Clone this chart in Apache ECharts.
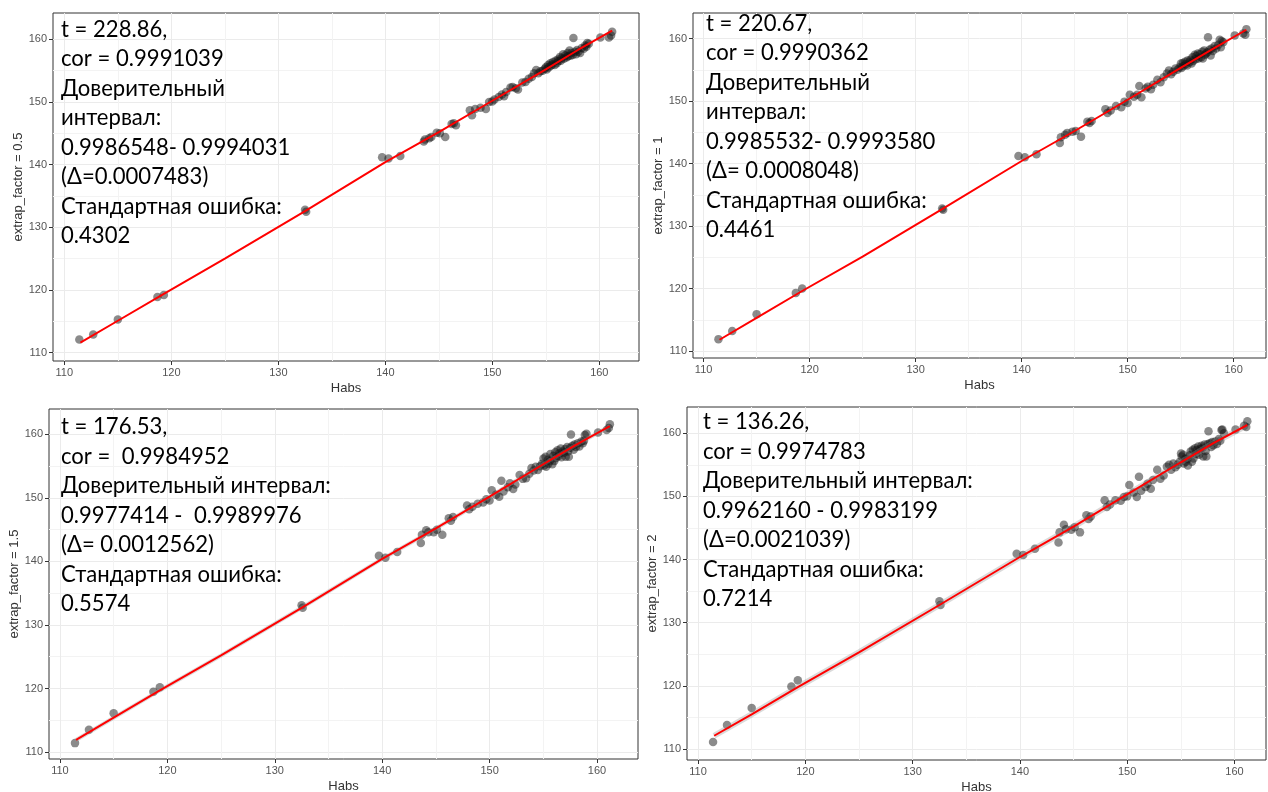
<!DOCTYPE html>
<html>
<head>
<meta charset="utf-8">
<script src="https://cdn.jsdelivr.net/npm/echarts@6/dist/echarts.min.js"></script>
<style>
  html, body { margin: 0; padding: 0; background: #fff; }
  #chart { width: 1268px; height: 792px; }
</style>
</head>
<body>
<div id="chart"></div>
<script>
// Habs (x), shared by all four panels
const habs = [
  111.4, 112.7, 115.0, 118.7, 119.3, 132.5, 132.6, 139.7, 140.3, 141.4,
  143.6, 143.7, 144.1, 144.3, 144.8, 145.1, 145.6, 146.2, 146.4, 146.6,
  147.9, 148.1, 148.4, 148.9, 149.4, 149.7, 150.0, 150.2, 150.6, 150.9,
  151.1, 151.3, 151.7, 151.9, 152.2, 152.4, 152.8, 153.1, 153.4, 153.7,
  153.9, 154.1, 154.3, 154.5, 154.7, 154.9, 155.02, 155.08, 155.21, 155.27,
  155.43, 155.48, 155.62, 155.66, 155.84, 155.91, 156.03, 156.12, 156.18, 156.33,
  156.41, 156.47, 156.62, 156.69, 156.81, 156.93, 157.04, 157.09, 157.22, 157.31,
  157.38, 157.52, 157.58, 157.71, 157.83, 157.92, 158.04, 158.21, 158.36, 158.55,
  158.68, 158.79, 158.87, 159.02, 160.1, 160.9, 161.1, 161.2
]

const extrap05 = [
  112.1, 112.9, 115.3, 118.9, 119.2, 132.8, 132.5, 141.2, 141.0, 141.4,
  143.7, 144.0, 144.2, 144.4, 145.1, 145.0, 144.4, 146.5, 146.6, 146.3,
  148.7, 147.9, 148.9, 149.1, 148.9, 150.0, 150.1, 150.4, 150.8, 151.2,
  150.9, 151.6, 152.3, 152.4, 152.2, 152.0, 153.1, 153.2, 153.7, 154.0,
  154.6, 155.1, 154.6, 154.9, 155.0, 155.3, 155.6, 155.2, 155.9, 155.5,
  156.2, 155.8, 156.0, 156.4, 155.9, 156.6, 156.2, 156.8, 156.5, 157.2,
  156.6, 157.0, 157.6, 156.9, 157.4, 157.1, 157.8, 157.3, 158.2, 157.4,
  157.8, 157.5, 160.2, 158.0, 157.6, 158.3, 158.0, 157.8, 158.6, 158.5,
  159.0, 158.8, 159.4, 159.3, 160.3, 160.3, 160.6, 161.2
]

const extrap1 = [
  111.9, 113.2, 115.9, 119.3, 120.0, 132.8, 132.6, 141.2, 141.0, 141.5,
  143.3, 144.2, 144.6, 144.9, 145.1, 145.2, 144.3, 146.7, 146.5, 146.8,
  148.7, 148.1, 148.5, 149.2, 149.0, 149.9, 149.7, 151.0, 150.7, 151.0,
  152.4, 150.6, 152.0, 152.3, 151.9, 152.6, 153.4, 153.0, 153.8, 154.4,
  154.9, 154.3, 154.7, 155.2, 155.0, 155.4, 156.0, 155.3, 156.1, 155.6,
  156.3, 155.9, 155.7, 156.5, 156.2, 156.6, 156.0, 157.0, 156.4, 157.4,
  156.7, 157.2, 157.6, 156.8, 157.5, 157.0, 157.9, 156.8, 158.1, 157.4,
  157.6, 157.8, 160.2, 158.2, 157.3, 158.4, 158.0, 158.8, 158.4, 159.0,
  159.8, 158.6, 159.6, 159.4, 160.5, 160.8, 160.6, 161.5
]

const extrap15 = [
  111.4, 113.5, 116.1, 119.5, 120.2, 133.1, 132.7, 140.9, 140.6, 141.5,
  142.9, 144.2, 144.9, 144.6, 144.6, 145.0, 144.2, 146.8, 146.4, 147.0,
  148.8, 148.2, 148.6, 149.1, 149.3, 149.8, 149.6, 151.2, 150.5, 150.2,
  152.7, 151.0, 151.7, 152.3, 151.4, 152.1, 153.6, 153.0, 153.1, 153.8,
  154.7, 154.3, 154.9, 154.4, 155.0, 155.4, 156.2, 155.1, 156.5, 154.9,
  156.0, 155.4, 155.8, 156.9, 155.3, 156.6, 155.8, 157.2, 156.3, 157.5,
  156.6, 157.0, 157.8, 156.4, 157.3, 157.1, 157.7, 156.5, 158.0, 157.3,
  156.5, 157.9, 160.0, 158.2, 157.6, 158.4, 158.0, 158.6, 158.1, 158.9,
  158.6, 159.0, 159.9, 160.1, 160.3, 160.7, 161.0, 161.6
]

const extrap2 = [
  111.1, 113.8, 116.5, 119.9, 120.9, 133.4, 132.8, 140.9, 140.7, 141.7,
  142.7, 144.3, 145.5, 144.8, 144.7, 145.1, 144.3, 147.0, 146.4, 146.8,
  149.4, 148.3, 148.7, 149.4, 149.3, 149.9, 150.0, 151.8, 150.6, 149.9,
  153.1, 150.9, 151.5, 152.0, 151.2, 152.6, 154.2, 152.8, 153.3, 154.7,
  155.0, 154.2, 155.2, 154.6, 155.0, 155.5, 156.8, 156.3, 156.6, 155.2,
  156.0, 155.5, 155.9, 154.9, 156.5, 157.1, 155.5, 157.4, 156.0, 157.6,
  156.7, 157.3, 157.9, 156.6, 157.5, 158.0, 157.7, 156.3, 158.2, 157.2,
  156.3, 158.3, 160.3, 158.4, 157.8, 158.6, 158.1, 158.7, 158.3, 159.1,
  158.8, 160.5, 160.6, 160.0, 160.6, 161.2, 161.0, 161.9
]

// smoothed fit (red line)
const fitHabs = [111.5, 115, 119.3, 125, 132.5, 140, 145, 150, 155, 158, 161.2]
const fit05 = [111.6, 115.1, 119.4, 125.0, 132.6, 140.4, 145.2, 150.2, 155.2, 158.3, 161.4]
const fit1 = [111.8, 115.3, 119.6, 125.1, 132.7, 140.4, 145.2, 150.2, 155.3, 158.3, 161.4]
const fit15 = [111.9, 115.4, 119.7, 125.2, 132.7, 140.4, 145.2, 150.2, 155.3, 158.3, 161.3]
const fit2 = [112.1, 115.5, 119.8, 125.3, 132.8, 140.4, 145.2, 150.3, 155.4, 158.4, 161.3]

const majorTicks = [110, 120, 130, 140, 150, 160]
const minorTicks = [115, 125, 135, 145, 155]

const xName = 'Habs'
const yNames = ['extrap_factor = 0.5', 'extrap_factor = 1', 'extrap_factor = 1.5', 'extrap_factor = 2']

const statTexts = [
  ['t = 228.86,', 'cor = 0.9991039', 'Доверительный', 'интервал:', '0.9986548- 0.9994031', '(Δ=0.0007483)', 'Стандартная ошибка:', '0.4302'],
  ['t = 220.67,', 'cor = 0.9990362', 'Доверительный', 'интервал:', '0.9985532- 0.9993580', '(Δ= 0.0008048)', 'Стандартная ошибка:', '0.4461'],
  ['t = 176.53,', 'cor =  0.9984952', 'Доверительный интервал:', '0.9977414 -  0.9989976', '(Δ= 0.0012562)', 'Стандартная ошибка:', '0.5574'],
  ['t = 136.26,', 'cor = 0.9974783', 'Доверительный интервал:', '0.9962160 - 0.9983199', '(Δ=0.0021039)', 'Стандартная ошибка:', '0.7214']
]

const panels = [
  { left: 53, top: 13, width: 586, height: 348, x: [108.94, 163.71], y: [108.68, 164.2], tx: 61, ty: 14.5, values: extrap05, fit: fit05, band: 0 },
  { left: 693, top: 13, width: 573, height: 345, x: [109.0, 163.05], y: [108.88, 164.08], tx: 706, ty: 8.5, values: extrap1, fit: fit1, band: 0 },
  { left: 49, top: 409, width: 589, height: 350, x: [108.98, 163.82], y: [108.9, 164.0], tx: 61, ty: 412, values: extrap15, fit: fit15, band: 1 },
  { left: 687, top: 407, width: 579, height: 353, x: [108.97, 162.94], y: [108.26, 164.15], tx: 703, ty: 407, values: extrap2, fit: fit2, band: 2 }
]

const chart = echarts.init(document.getElementById('chart'), null, { renderer: 'canvas' })

const grid = []
const xAxis = []
const yAxis = []
const series = []
const graphic = []

const labelStyle = { color: '#555', fontSize: 11, fontFamily: 'Liberation Sans, Arial, sans-serif' }
const nameStyle = { color: '#333', fontSize: 13, fontFamily: 'Liberation Sans, Arial, sans-serif' }

panels.forEach((p, i) => {
  grid.push({
    left: p.left, top: p.top, width: p.width, height: p.height,
    show: true, borderColor: '#333', borderWidth: 1, backgroundColor: 'transparent',
    outerBoundsMode: 'none'
  })

  // major axes: labels, ticks, major grid
  xAxis.push({
    gridIndex: i, type: 'value', min: p.x[0], max: p.x[1], position: 'bottom',
    name: xName, nameLocation: 'middle', nameGap: 21, nameTextStyle: nameStyle,
    axisLine: { show: false },
    axisTick: { show: true, customValues: majorTicks, length: 4, lineStyle: { color: '#333' } },
    axisLabel: Object.assign({ customValues: majorTicks, margin: 6 }, labelStyle),
    splitLine: { show: true, lineStyle: { color: '#ebebeb', width: 1 } }
  })
  yAxis.push({
    gridIndex: i, type: 'value', min: p.y[0], max: p.y[1], position: 'left',
    name: yNames[i], nameLocation: 'middle', nameGap: 28, nameTextStyle: nameStyle,
    axisLine: { show: false },
    axisTick: { show: true, customValues: majorTicks, length: 4, lineStyle: { color: '#333' } },
    axisLabel: Object.assign({ customValues: majorTicks, margin: 6 }, labelStyle),
    splitLine: { show: true, lineStyle: { color: '#ebebeb', width: 1 } }
  })
  // minor grid only
  xAxis.push({
    gridIndex: i, type: 'value', min: p.x[0], max: p.x[1], position: 'bottom',
    axisLine: { show: false },
    axisTick: { show: false, customValues: minorTicks },
    axisLabel: { show: false },
    splitLine: { show: true, lineStyle: { color: '#f3f3f3', width: 1 } }
  })
  yAxis.push({
    gridIndex: i, type: 'value', min: p.y[0], max: p.y[1], position: 'left',
    axisLine: { show: false },
    axisTick: { show: false, customValues: minorTicks },
    axisLabel: { show: false },
    splitLine: { show: true, lineStyle: { color: '#f3f3f3', width: 1 } }
  })

  series.push({
    type: 'scatter', xAxisIndex: 2 * i, yAxisIndex: 2 * i,
    symbolSize: 8.5,
    itemStyle: { color: 'rgba(20,20,20,0.62)' },
    data: habs.map((h, k) => [h, p.values[k]]),
    z: 2
  })

  const fitData = fitHabs.map((h, k) => [h, p.fit[k]])
  if (p.band) {
    series.push({
      type: 'line', xAxisIndex: 2 * i, yAxisIndex: 2 * i,
      symbol: 'none', data: fitData, silent: true,
      lineStyle: { color: 'rgba(150,150,150,0.35)', width: 2 + 2 * p.band },
      z: 3
    })
  }
  series.push({
    type: 'line', xAxisIndex: 2 * i, yAxisIndex: 2 * i,
    symbol: 'none', data: fitData, silent: true,
    lineStyle: { color: '#ff0000', width: 2 },
    z: 4
  })

  // Calibri-like proportions: taller glyphs, slightly condensed
  graphic.push({
    type: 'text', x: p.tx, y: p.ty, z: 100,
    scaleX: 0.94, originX: 0, originY: 0,
    style: {
      text: statTexts[i].join('\n'),
      font: '23.5px Lato',
      fill: '#000',
      lineHeight: 29.5,
      verticalAlign: 'top',
      align: 'left'
    }
  })
})

chart.setOption({
  animation: false,
  backgroundColor: '#fff',
  grid,
  xAxis,
  yAxis,
  series,
  graphic
})
</script>
</body>
</html>
